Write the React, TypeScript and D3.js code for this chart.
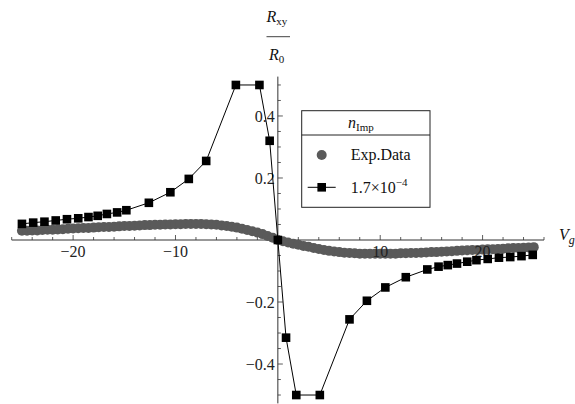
import React from "react";
import * as d3 from "d3";

const W = 575;
const H = 404;

// experimental data (grey dots)
const expVg = [
  -25, -24.5, -24, -23.5, -23, -22.5, -22, -21.5, -21, -20.5, -20, -19.5, -19, -18.5, -18, -17.5, -17,
  -16.5, -16, -15.5, -15, -14.5, -14, -13.5, -13, -12.5, -12, -11.5, -11, -10.5, -10, -9.5, -9, -8.5,
  -8, -7.5, -7, -6.5, -6, -5.5, -5, -4.5, -4, -3.5, -3, -2.5, -2, -1.5, -1, -0.5, 0, 0.5, 1, 1.5, 2,
  2.5, 3, 3.5, 4, 4.5, 5, 5.5, 6, 6.5, 7, 7.5, 8, 8.5, 9, 9.5, 10, 10.5, 11, 11.5, 12, 12.5, 13, 13.5,
  14, 14.5, 15, 15.5, 16, 16.5, 17, 17.5, 18, 18.5, 19, 19.5, 20, 20.5, 21, 21.5, 22, 22.5, 23, 23.5,
  24, 24.5, 25,
];
const expR = [
  0.030, 0.030, 0.031, 0.031, 0.032, 0.033, 0.033, 0.034, 0.035, 0.036, 0.037, 0.038, 0.039, 0.039,
  0.040, 0.041, 0.042, 0.042, 0.043, 0.044, 0.045, 0.045, 0.046, 0.047, 0.048, 0.048, 0.049, 0.049,
  0.050, 0.050, 0.051, 0.051, 0.052, 0.052, 0.052, 0.052, 0.051, 0.050, 0.049, 0.047, 0.045, 0.043,
  0.040, 0.036, 0.032, 0.028, 0.024, 0.019, 0.013, 0.007, 0.000, -0.004, -0.008, -0.012, -0.015,
  -0.019, -0.022, -0.026, -0.029, -0.032, -0.035, -0.037, -0.039, -0.041, -0.042, -0.043, -0.044,
  -0.044, -0.044, -0.044, -0.044, -0.044, -0.044, -0.044, -0.043, -0.043, -0.042, -0.042, -0.041,
  -0.040, -0.039, -0.039, -0.038, -0.037, -0.036, -0.035, -0.034, -0.033, -0.032, -0.032, -0.031,
  -0.030, -0.030, -0.029, -0.028, -0.027, -0.026, -0.026, -0.025, -0.024, -0.023,
];

// model, n_Imp = 1.7e-4 (black squares)
const simVg = [
  -25.0, -23.9, -22.8, -21.7, -20.6, -19.5, -18.5, -17.6, -16.7, -15.7, -14.8, -12.6, -10.5, -8.7,
  -7.0, -4.1, -1.8, -0.8, 0, 0.8, 1.8, 4.1, 7.0, 8.7, 10.5, 12.5, 14.6, 15.7, 16.6, 17.5, 18.5, 19.4,
  20.5, 21.6, 22.7, 23.8, 24.9,
];
const simR = [
  0.052, 0.056, 0.059, 0.063, 0.067, 0.070, 0.074, 0.078, 0.084, 0.089, 0.096, 0.12, 0.154, 0.197,
  0.255, 0.5, 0.5, 0.32, 0, -0.315, -0.5, -0.5, -0.256, -0.196, -0.153, -0.12, -0.095, -0.086,
  -0.081, -0.076, -0.070, -0.065, -0.061, -0.057, -0.055, -0.052, -0.048,
];

const xTickLabels = [-20, -10, 10, 20];
const yTickLabels = [-0.4, -0.2, 0.2, 0.4];

const FONT = "Liberation Serif, DejaVu Serif, serif";
const GREY = "#5a5a5a";
const AXIS = "#333";

const minus = (s: string) => s.replace("-", "\u2212");

export default function App() {
  const x = d3.scaleLinear().domain([-26, 26]).range([11.7, 544]);
  const y = d3.scaleLinear().domain([-0.527, 0.527]).range([403.4, 76.6]);
  const x0 = x(0);
  const y0 = y(0);

  const xMinor = d3.range(-26, 27, 2);
  const yMinor = d3.range(-10, 11).map((k) => k * 0.05);

  const simLine = d3
    .line<number>()
    .x((_, i) => x(simVg[i]))
    .y((d) => y(d));

  const sq = 8.6;

  return (
    <svg
      width={W}
      height={H}
      style={{ position: "absolute", left: 0, top: 0, background: "#fff", fontFamily: FONT }}
    >
      {/* axes */}
      <line x1={x(-26)} x2={x(26)} y1={y0} y2={y0} stroke={AXIS} strokeWidth={1} />
      <line x1={x0} x2={x0} y1={y(0.527)} y2={y(-0.527)} stroke={AXIS} strokeWidth={1} />

      {xMinor.map((v) => {
        const major = v % 10 === 0;
        return (
          <line key={"xt" + v} x1={x(v)} x2={x(v)} y1={y0} y2={y0 - (major ? 5 : 3)} stroke={AXIS} strokeWidth={0.8} />
        );
      })}
      {yMinor.map((v, i) => {
        const major = (i - 10) % 4 === 0;
        return (
          <line key={"yt" + i} x1={x0} x2={x0 + (major ? 5 : 3)} y1={y(v)} y2={y(v)} stroke={AXIS} strokeWidth={0.8} />
        );
      })}

      {/* experimental dots */}
      <g fill={GREY}>
        {expR.map((r, i) => (
          <circle key={"e" + i} cx={x(expVg[i])} cy={y(r)} r={5} />
        ))}
      </g>

      {/* tick labels */}
      <g fontSize={16} fill="#222" style={{ fontFamily: FONT }}>
        {xTickLabels.map((v) => (
          <text key={"xl" + v} x={x(v)} y={y0 + 17} textAnchor="middle">
            {minus(String(v))}
          </text>
        ))}
        {yTickLabels.map((v) => (
          <text key={"yl" + v} x={x0 - 3} y={y(v)} dy="0.35em" textAnchor="end">
            {minus(v.toFixed(1))}
          </text>
        ))}
      </g>

      {/* model line with squares */}
      <path d={simLine(simR) || ""} fill="none" stroke="#000" strokeWidth={1} />
      {simR.map((r, i) => (
        <rect key={"s" + i} x={x(simVg[i]) - sq / 2} y={y(r) - sq / 2} width={sq} height={sq} fill="#000" />
      ))}

      {/* axis labels */}
      <g fontSize={16} fill="#111" style={{ fontFamily: FONT }}>
        <text x={266.5} y={22}>
          <tspan fontStyle="italic">R</tspan>
          <tspan fontSize={11} dy={3}>xy</tspan>
        </text>
        <line x1={266.5} x2={290} y1={36.7} y2={36.7} stroke="#111" strokeWidth={0.8} />
        <text x={269} y={60}>
          <tspan fontStyle="italic">R</tspan>
          <tspan fontSize={11} dy={3}>0</tspan>
        </text>
        <text x={559} y={240}>
          <tspan fontStyle="italic">V</tspan>
          <tspan fontSize={12} fontStyle="italic" dy={4}>g</tspan>
        </text>
      </g>

      {/* legend */}
      <g style={{ fontFamily: FONT }}>
        <rect x={301.7} y={110.7} width={128.3} height={96.6} fill="#fff" stroke="#222" strokeWidth={1} />
        <line x1={301.7} x2={430} y1={135} y2={135} stroke="#222" strokeWidth={1} />
        <text x={348} y={128} fontSize={16} fill="#111">
          <tspan fontStyle="italic">n</tspan>
          <tspan fontSize={11} dy={3}>Imp</tspan>
        </text>
        <circle cx={321.7} cy={155} r={5} fill={GREY} />
        <text x={350.7} y={160} fontSize={16} fill="#111">Exp.Data</text>
        <line x1={307.7} x2={335.7} y1={187.3} y2={187.3} stroke="#000" strokeWidth={1} />
        <rect x={321.7 - sq / 2} y={187.3 - sq / 2} width={sq} height={sq} fill="#000" />
        <text x={350.7} y={192.5} fontSize={16} fill="#111">
          1.7×10
          <tspan fontSize={11} dy={-7}>−4</tspan>
        </text>
      </g>
    </svg>
  );
}
